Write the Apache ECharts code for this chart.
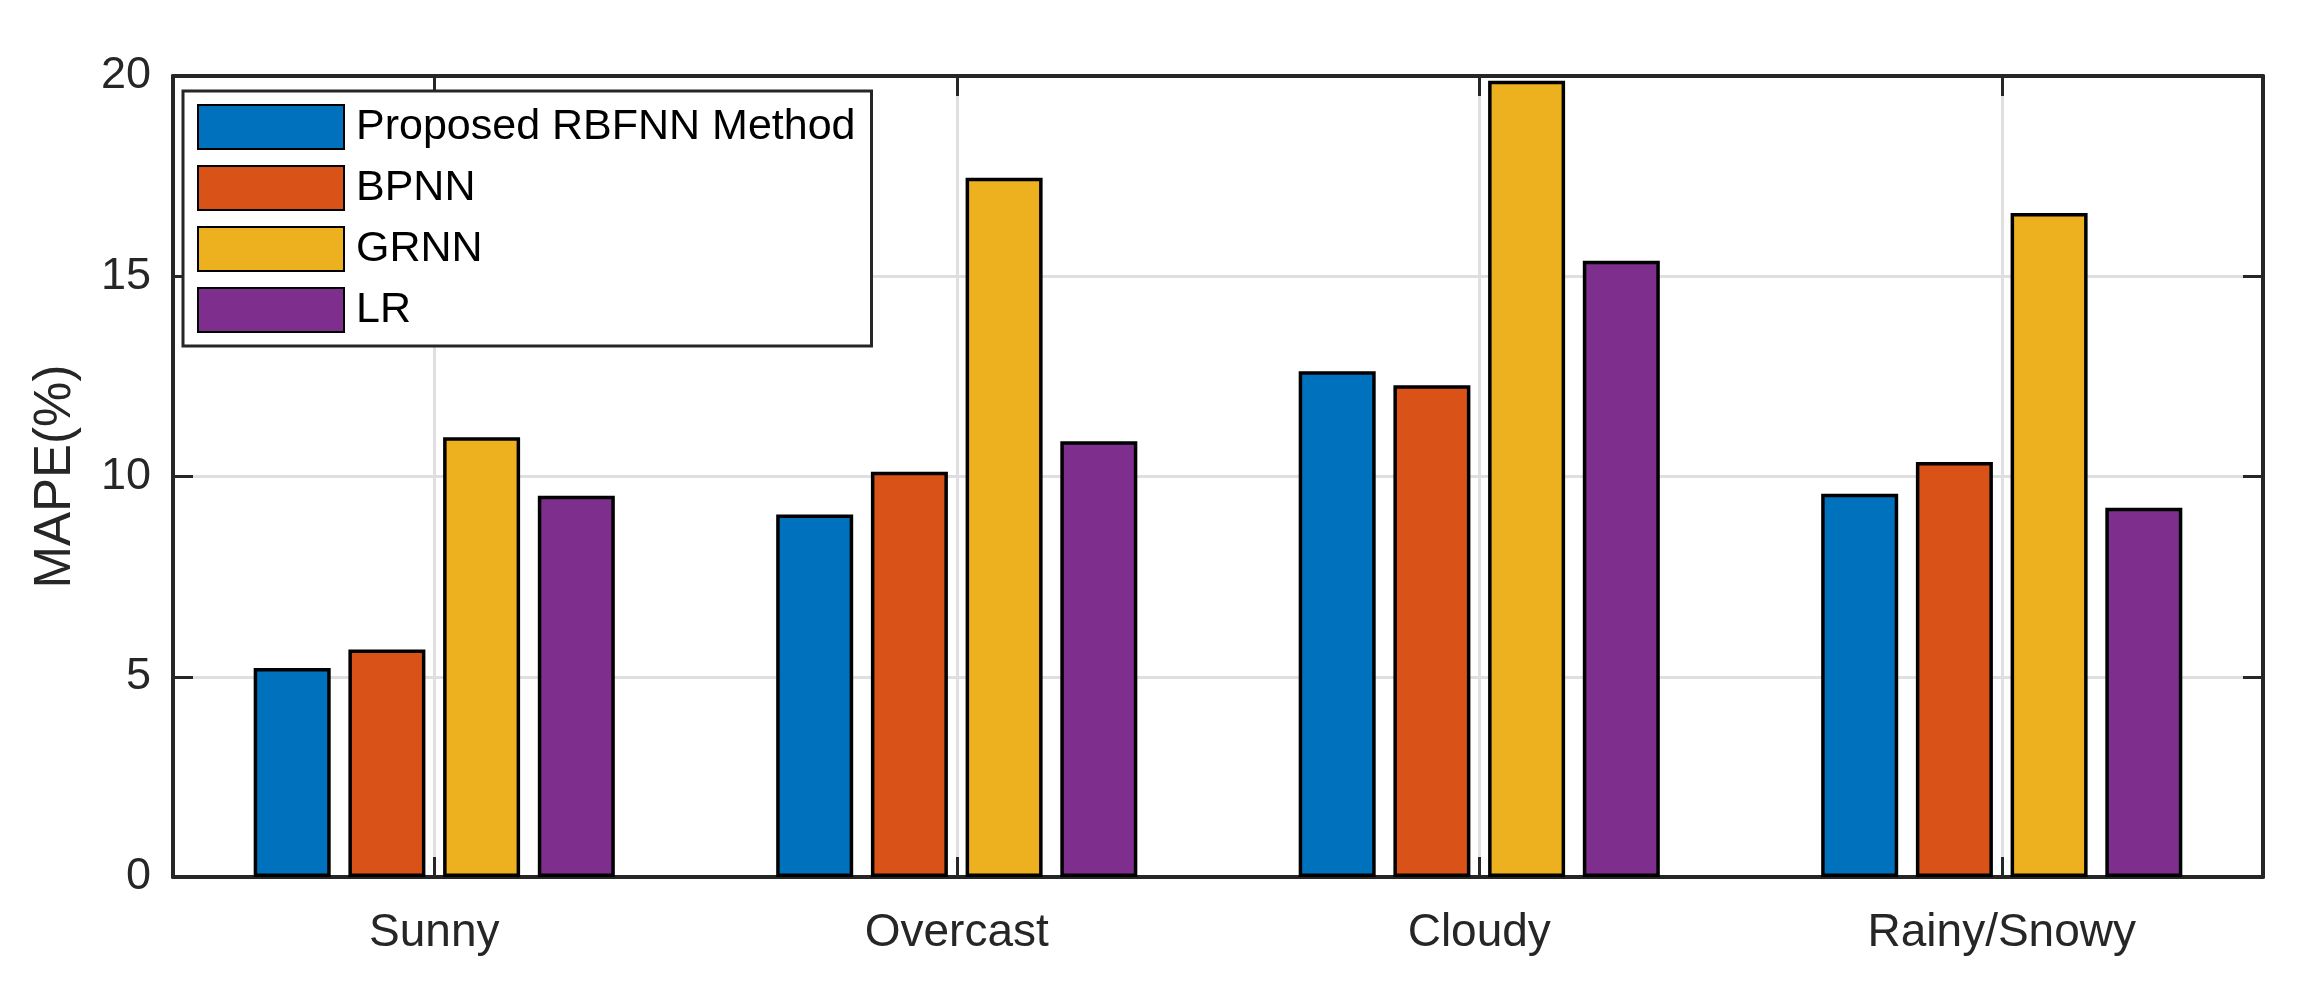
<!DOCTYPE html>
<html>
<head>
<meta charset="utf-8">
<script src="https://cdn.jsdelivr.net/npm/echarts@6/dist/echarts.min.js"></script>
<style>
    * { margin: 0; padding: 0; }
    html, body { background: #fff; }
</style>
</head>
<body>
<div id="main" style="width: 2309px; height: 985px;"></div>
<script>
    // categories and MAPE (%) values
    var categories = ['Sunny', 'Overcast', 'Cloudy', 'Rainy/Snowy'];
    var seriesNames = ['Proposed RBFNN Method', 'BPNN', 'GRNN', 'LR'];
    var rbfnn = [5.22, 9.05, 12.63, 9.57];
    var bpnn = [5.68, 10.12, 12.28, 10.36];
    var grnn = [10.98, 17.46, 19.88, 16.58];
    var lr = [9.52, 10.88, 15.39, 9.22];
    var yTicks = [0, 5, 10, 15, 20];

    var colors = ['#0072BD', '#D95319', '#EDB120', '#7E2F8E'];
    var values = [rbfnn, bpnn, grnn, lr];
    var axisColor = '#262626';
    var font = 'Liberation Sans, Arial, Helvetica, sans-serif';

    // half-step axis used for the top ticks and vertical grid at group centres
    var halfSteps = [];
    for (var i = 0; i <= categories.length * 2; i++) {
        halfSteps.push(i % 2 === 1 ? categories[(i - 1) / 2] : '');
    }
    var oddOnly = function (idx) { return idx % 2 === 1; };

    var chart = echarts.init(document.getElementById('main'));
    chart.setOption({
        animation: false,
        backgroundColor: '#fff',
        grid: {left: 173, right: 46, top: 76, bottom: 108, containLabel: false},
        legend: {
            orient: 'vertical',
            left: 183,
            top: 91,
            padding: [13, 16, 13, 14],
            backgroundColor: '#fff',
            borderColor: axisColor,
            borderWidth: 3,
            borderRadius: 0,
            itemWidth: 146,
            itemHeight: 44,
            itemGap: 15,
            icon: 'rect',
            data: seriesNames,
            textStyle: {fontFamily: font, fontSize: 43, color: '#000', padding: [0, 0, 0, 7]}
        },
        xAxis: [
            {
                type: 'category',
                data: categories,
                position: 'bottom',
                axisLine: {onZero: false, lineStyle: {color: axisColor, width: 4}},
                axisTick: {show: true, inside: true, alignWithLabel: true, length: 20,
                    lineStyle: {color: axisColor, width: 3}},
                axisLabel: {fontFamily: font, fontSize: 46, color: axisColor, margin: 33},
                splitLine: {show: false}
            },
            {
                type: 'category',
                data: halfSteps,
                position: 'top',
                boundaryGap: false,
                axisLine: {onZero: false, lineStyle: {color: axisColor, width: 4}},
                axisTick: {show: true, inside: true, length: 20, interval: oddOnly,
                    lineStyle: {color: axisColor, width: 3}},
                axisLabel: {show: false},
                splitLine: {show: true, interval: oddOnly, lineStyle: {color: '#dfdfdf', width: 3}}
            }
        ],
        yAxis: [
            {
                type: 'value',
                min: yTicks[0],
                max: yTicks[yTicks.length - 1],
                interval: 5,
                position: 'left',
                name: 'MAPE(%)',
                nameLocation: 'middle',
                nameGap: 92,
                nameTextStyle: {fontFamily: font, fontSize: 51, color: axisColor},
                axisLine: {show: true, onZero: false, lineStyle: {color: axisColor, width: 4}},
                axisTick: {show: true, inside: true, length: 20, lineStyle: {color: axisColor, width: 3}},
                axisLabel: {fontFamily: font, fontSize: 45, color: axisColor, margin: 22},
                splitLine: {show: true, lineStyle: {color: '#dfdfdf', width: 3}}
            },
            {
                type: 'value',
                min: yTicks[0],
                max: yTicks[yTicks.length - 1],
                interval: 5,
                position: 'right',
                axisLine: {show: true, onZero: false, lineStyle: {color: axisColor, width: 4}},
                axisTick: {show: true, inside: true, length: 20, lineStyle: {color: axisColor, width: 3}},
                axisLabel: {show: false},
                splitLine: {show: false}
            }
        ],
        series: seriesNames.map(function (name, k) {
            return {
                name: name,
                type: 'bar',
                xAxisIndex: 0,
                yAxisIndex: 0,
                barWidth: 77,
                barGap: '23%',
                itemStyle: {color: colors[k], borderColor: '#000', borderWidth: 3.5},
                data: values[k]
            };
        })
    });
</script>
</body>
</html>
